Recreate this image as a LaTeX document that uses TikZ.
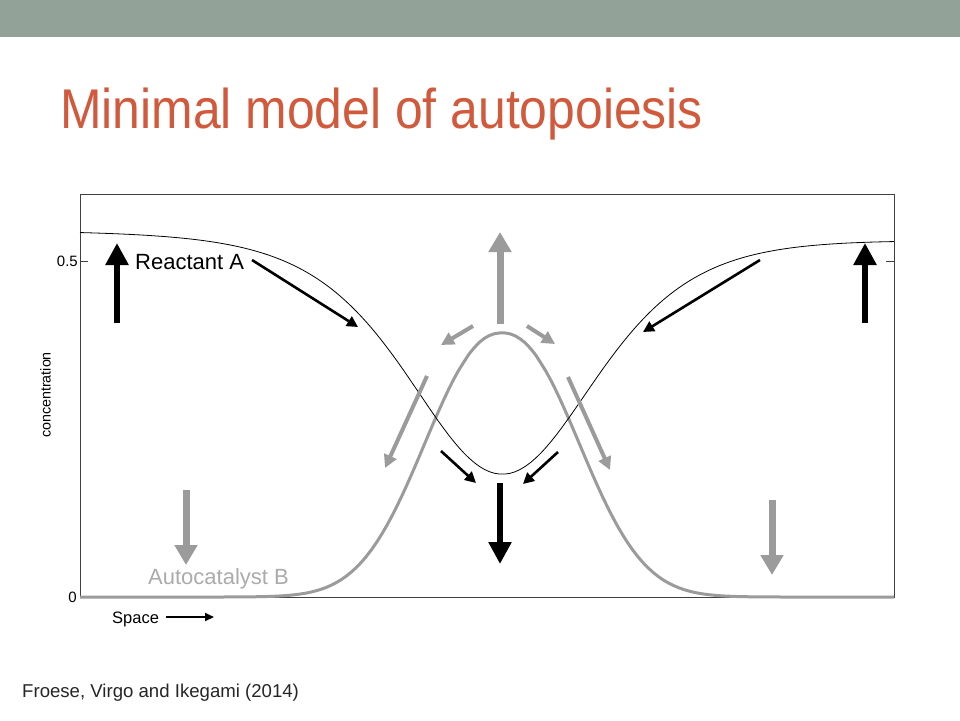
\documentclass[tikz,border=0pt]{standalone}
\usepackage{fontspec}
\setmainfont{Liberation Sans}
\newfontfamily\titlefont[FakeStretch=0.89]{Liberation Sans}
\usetikzlibrary{arrows.meta}
\definecolor{banner}{HTML}{93A299}
\definecolor{titlered}{HTML}{D25A3C}
\definecolor{curvegray}{HTML}{9B9B9B}
\definecolor{labelgray}{HTML}{ABABAB}

\begin{document}
\begin{tikzpicture}[x=1pt,y=-1pt,
    bigblk/.style={line width=6pt,-{Triangle[width=22pt,length=22pt]}},
    thinblk/.style={line width=2.6pt,-{Triangle[width=11pt,length=11pt]}},
    biggry/.style={curvegray,line width=7pt,-{Triangle[width=22pt,length=20pt]}},
    midgry/.style={curvegray,line width=4pt,-{Triangle[width=13pt,length=13pt]}},
    lbl/.style={inner sep=0pt,font=\fontsize{22}{26}\selectfont}]
    \useasboundingbox (0,0) rectangle (960,720);
    \fill[white] (0,0) rectangle (960,720);
    \fill[banner] (0,0) rectangle (960,37);

    \node[inner sep=0pt,anchor=base west,titlered,font=\titlefont\fontsize{56}{60}\selectfont]
        (title) at (60,128) {Minimal model of autopoiesis};

    \draw[black!75,line width=1pt] (80,194) rectangle (894,597);
    \draw[black!75,line width=1pt] (80,261) -- (88,261);
    \draw[black!75,line width=1pt] (886,261) -- (894,261);

    \draw[curvegray,line width=3pt,line join=round]
        plot[domain=80:894,samples=160]
        (\x,{597-264.1*exp(-((((\x-502)/102)*((\x-502)/102)+0.00001)^1.1))});
    \draw[black,line width=0.8pt]
        plot[domain=80:894,samples=160]
        (\x,{597-672*(0.544-0.0000125*(\x-80)-0.355/(cosh((\x-502)/125))^2)});

    \coordinate (up1s) at (117,323);
    \coordinate (up1e) at (117,243);
    \coordinate (up2s) at (865,323);
    \coordinate (up2e) at (865,243);
    \coordinate (ra1s) at (252,260);
    \coordinate (ra1e) at (358,327);
    \coordinate (ra2s) at (760,260);
    \coordinate (ra2e) at (643,332);
    \coordinate (bups) at (500,324);
    \coordinate (bupe) at (500,232);
    \coordinate (bl1s) at (473,326);
    \coordinate (bl1e) at (441,345);
    \coordinate (br1s) at (527,326);
    \coordinate (br1e) at (555,344);
    \coordinate (bl2s) at (427,376);
    \coordinate (bl2e) at (385,468);
    \coordinate (br2s) at (568,377);
    \coordinate (br2e) at (610,470);
    \coordinate (al1s) at (441,451);
    \coordinate (al1e) at (476,483);
    \coordinate (ar1s) at (558,452);
    \coordinate (ar1e) at (523,484);
    \coordinate (adns) at (500,483);
    \coordinate (adne) at (500,564);
    \coordinate (bd1s) at (186,490);
    \coordinate (bd1e) at (186,565);
    \coordinate (bd2s) at (772,500);
    \coordinate (bd2e) at (772,575);
    \coordinate (sps) at (166,617);
    \coordinate (spe) at (214,617);

    \draw[bigblk] (up1s) -- (up1e);
    \draw[bigblk] (up2s) -- (up2e);
    \draw[bigblk] (adns) -- (adne);
    \draw[thinblk] (ra1s) -- (ra1e);
    \draw[thinblk] (ra2s) -- (ra2e);
    \draw[thinblk] (al1s) -- (al1e);
    \draw[thinblk] (ar1s) -- (ar1e);
    \draw[biggry] (bups) -- (bupe);
    \draw[biggry] (bd1s) -- (bd1e);
    \draw[biggry] (bd2s) -- (bd2e);
    \draw[midgry] (bl1s) -- (bl1e);
    \draw[midgry] (br1s) -- (br1e);
    \draw[midgry] (bl2s) -- (bl2e);
    \draw[midgry] (br2s) -- (br2e);
    \draw[line width=1.8pt,-{Triangle[width=8pt,length=9pt]}] (sps) -- (spe);

    \node[lbl,anchor=base west] (reac) at (135,269) {Reactant A};
    \node[lbl,anchor=base west,labelgray] (auto) at (148,584) {Autocatalyst B};
    \node[inner sep=0pt,anchor=base east,font=\fontsize{15}{18}\selectfont] (half) at (78,266) {0.5};
    \node[inner sep=0pt,anchor=base east,font=\fontsize{15}{18}\selectfont] (zero) at (77,602) {0};
    \node[inner sep=0pt,anchor=base,rotate=90,font=\fontsize{14.3}{17}\selectfont] (conc) at (50.5,395) {concentration};
    \node[inner sep=0pt,anchor=base west,font=\fontsize{16.5}{20}\selectfont] (space) at (112,623) {Space};
    \node[inner sep=0pt,anchor=base west,black!85,font=\fontsize{18.6}{22}\selectfont] (cite) at (22,697) {Froese, Virgo and Ikegami (2014)};
\end{tikzpicture}
\end{document}
